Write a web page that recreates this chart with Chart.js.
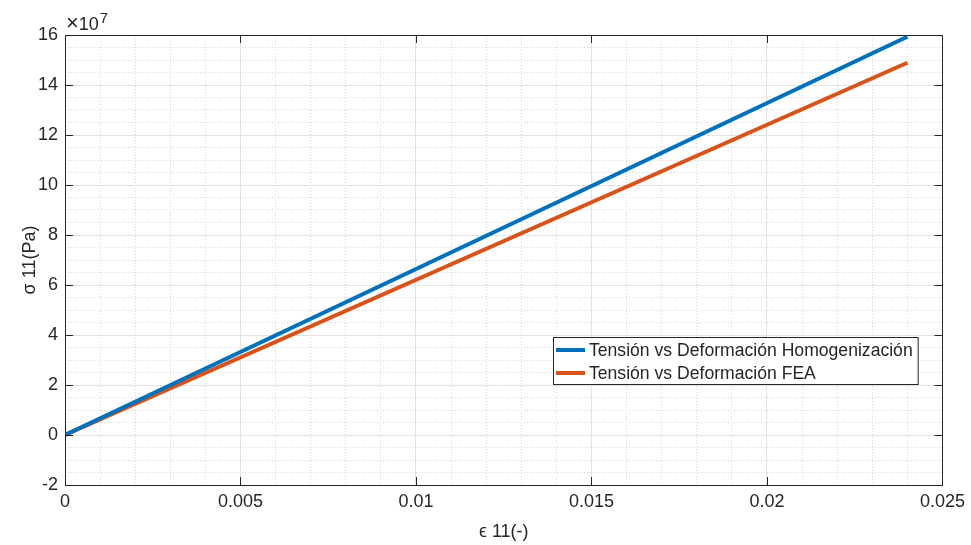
<!DOCTYPE html>
<html>
<head>
<meta charset="utf-8">
<title>Tensión vs Deformación</title>
<script src="https://cdn.jsdelivr.net/npm/chart.js@4.4.1/dist/chart.umd.min.js"></script>
<style>
  html, body { margin: 0; padding: 0; background: #fff; }
  #wrap { width: 971px; height: 545px; }
</style>
</head>
<body>
<div id="wrap"><canvas id="stressChart" width="971" height="545"></canvas></div>
<script>
// ---- data (stress in Pa, strain dimensionless) ----
const strain      = [0, 0.024];
const stressHomog = [0, 1.593e8];
const stressFEA   = [0, 1.489e8];
const seriesNames = ["Tensión vs Deformación Homogenización", "Tensión vs Deformación FEA"];

const xTicks      = [0, 0.005, 0.01, 0.015, 0.02, 0.025];
const xTickLabels = ["0", "0.005", "0.01", "0.015", "0.02", "0.025"];
const yTicks      = [-2e7, 0, 2e7, 4e7, 6e7, 8e7, 10e7, 12e7, 14e7, 16e7];
const yTickLabels = ["-2", "0", "2", "4", "6", "8", "10", "12", "14", "16"];

// ---- style ----
const TXT    = "#262626";
const FONT   = "'Liberation Sans', Arial, Helvetica, sans-serif";
const BLUE   = "#0072BD";
const ORANGE = "#D95319";
const MAJOR  = "#e3e3e3";
const MINOR  = "#d6d6d6";

const toPts = (xs, ys) => xs.map((x, i) => ({ x: x, y: ys[i] }));

// frame, inward tick marks, exponent label and boxed legend (MATLAB look)
const matlabAxes = {
  id: "matlabAxes",
  afterDraw(chart) {
    const { ctx, chartArea: a } = chart;
    const sx = chart.scales.x, sy = chart.scales.y;
    const T = 8;
    ctx.save();
    ctx.strokeStyle = TXT;
    ctx.lineWidth = 1;
    ctx.beginPath();
    xTicks.forEach(v => {
      const px = Math.round(sx.getPixelForValue(v)) + 0.5;
      ctx.moveTo(px, a.bottom); ctx.lineTo(px, a.bottom - T);
      ctx.moveTo(px, a.top);    ctx.lineTo(px, a.top + T);
    });
    yTicks.forEach(v => {
      const py = Math.round(sy.getPixelForValue(v)) + 0.5;
      ctx.moveTo(a.left, py);  ctx.lineTo(a.left + T, py);
      ctx.moveTo(a.right, py); ctx.lineTo(a.right - T, py);
    });
    ctx.stroke();
    ctx.strokeRect(Math.round(a.left) + 0.5, Math.round(a.top) + 0.5,
                   Math.round(a.right - a.left), Math.round(a.bottom - a.top));

    // x10^7
    ctx.fillStyle = TXT;
    ctx.textBaseline = "alphabetic";
    ctx.textAlign = "left";
    ctx.font = "22px " + FONT;
    ctx.fillText("\u00d7", a.left + 1, a.top - 5);
    const wx = ctx.measureText("\u00d7").width;
    ctx.font = "18px " + FONT;
    ctx.fillText("10", a.left + 1 + wx, a.top - 5);
    const w = wx + ctx.measureText("10").width;
    ctx.font = "15px " + FONT;
    ctx.fillText("7", a.left + 2 + w, a.top - 12);

    // legend
    ctx.font = "17.6px " + FONT;
    const colors = [BLUE, ORANGE];
    const textW = Math.max(...seriesNames.map(n => ctx.measureText(n).width));
    const bx = 553, by = 337, bh = 47;
    const bw = 36 + textW + 5;
    ctx.fillStyle = "#fff";
    ctx.fillRect(bx, by, bw, bh);
    ctx.strokeStyle = TXT;
    ctx.lineWidth = 1;
    ctx.strokeRect(bx + 0.5, by + 0.5, bw, bh);
    ctx.textBaseline = "middle";
    seriesNames.forEach((n, i) => {
      const cy = by + 13 + i * 23;
      ctx.strokeStyle = colors[i];
      ctx.lineWidth = 4;
      ctx.beginPath();
      ctx.moveTo(bx + 3, cy); ctx.lineTo(bx + 32, cy);
      ctx.stroke();
      ctx.fillStyle = TXT;
      ctx.fillText(n, bx + 36, cy + 1);
    });
    ctx.restore();
  }
};

document.addEventListener("DOMContentLoaded", () => {
  const ctx = document.getElementById("stressChart").getContext("2d");

  new Chart(ctx, {
    type: "line",
    data: {
      datasets: [
        {
          label: seriesNames[0],
          data: toPts(strain, stressHomog),
          borderColor: BLUE,
          borderWidth: 4,
          pointRadius: 0,
          fill: false,
          xAxisID: "x", yAxisID: "y"
        },
        {
          label: seriesNames[1],
          data: toPts(strain, stressFEA),
          borderColor: ORANGE,
          borderWidth: 4,
          pointRadius: 0,
          fill: false,
          xAxisID: "x", yAxisID: "y"
        }
      ]
    },
    options: {
      responsive: false,
      animation: false,
      devicePixelRatio: 1,
      layout: { padding: { top: 35, right: 26, left: 0, bottom: 0 } },
      scales: {
        xMinor: {
          type: "linear", position: "bottom", min: 0, max: 0.025,
          afterFit: s => { s.height = 0; },
          ticks: { display: false, stepSize: 0.001, autoSkip: false },
          grid: {
            drawTicks: false,
            color: c => (c.index % 5 === 0 ? "rgba(0,0,0,0)" : MINOR)
          },
          border: { display: false, dash: [1, 2] }
        },
        yMinor: {
          type: "linear", position: "left", min: -2e7, max: 16e7,
          afterFit: s => { s.width = 0; },
          ticks: { display: false, stepSize: 0.5e7, autoSkip: false },
          grid: {
            drawTicks: false,
            color: c => (c.index % 4 === 0 ? "rgba(0,0,0,0)" : MINOR)
          },
          border: { display: false, dash: [1, 2] }
        },
        x: {
          type: "linear", position: "bottom", min: 0, max: 0.025,
          afterFit: s => { s.height = 60; },
          afterBuildTicks: s => { s.ticks = xTicks.map(v => ({ value: v })); },
          grid: { color: MAJOR, drawTicks: false },
          border: { display: false },
          ticks: {
            color: TXT, padding: 6, maxRotation: 0, autoSkip: false,
            font: { family: FONT, size: 18 },
            callback: (v, i) => xTickLabels[i]
          },
          title: {
            display: true, text: "\u03f5 11(-)", color: TXT,
            font: { family: FONT, size: 18 },
            padding: { top: 0, bottom: 2 }
          }
        },
        y: {
          type: "linear", position: "left", min: -2e7, max: 16e7,
          afterFit: s => { s.width = 65; },
          afterBuildTicks: s => { s.ticks = yTicks.map(v => ({ value: v })); },
          grid: { color: MAJOR, drawTicks: false },
          border: { display: false },
          ticks: {
            color: TXT, padding: 7, autoSkip: false,
            font: { family: FONT, size: 18 },
            callback: (v, i) => yTickLabels[i]
          },
          title: {
            display: true, text: "\u03c3 11(Pa)", color: TXT,
            font: { family: FONT, size: 18 },
            padding: { top: 19, bottom: 0 }
          }
        }
      },
      plugins: {
        legend: { display: false },
        tooltip: { enabled: false }
      }
    },
    plugins: [matlabAxes]
  });
});
</script>
</body>
</html>
